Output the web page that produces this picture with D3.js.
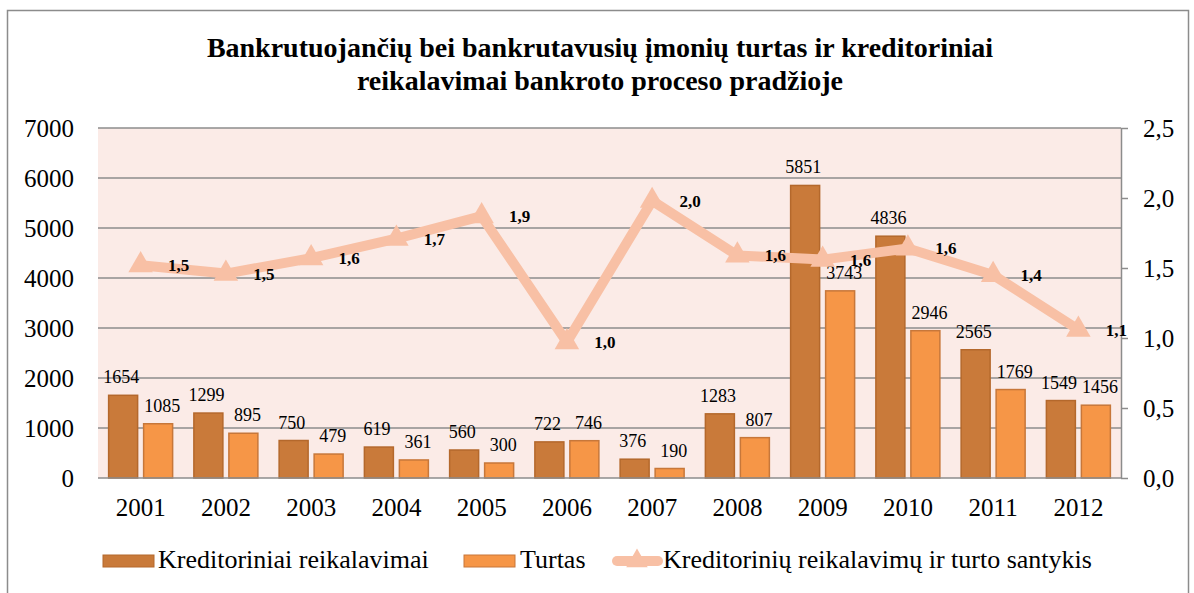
<!DOCTYPE html>
<html>
<head>
<meta charset="utf-8">
<title>Bankrutuojančių įmonių turtas</title>
<script src="https://cdn.jsdelivr.net/npm/d3@7/dist/d3.min.js"></script>
<style>
  body { margin: 0; background: #fff; }
</style>
</head>
<body>
<svg id="chart" width="1194" height="593"></svg>
<script>
var years = ['2001','2002','2003','2004','2005','2006','2007','2008','2009','2010','2011','2012'];
var kreditoriniai = [1654, 1299, 750, 619, 560, 722, 376, 1283, 5851, 4836, 2565, 1549];
var turtas = [1085, 895, 479, 361, 300, 746, 190, 807, 3743, 2946, 1769, 1456];
var santykis = [1.52, 1.46, 1.57, 1.71, 1.87, 0.97, 1.98, 1.59, 1.56, 1.64, 1.45, 1.06];
var leftTicks = [0, 1000, 2000, 3000, 4000, 5000, 6000, 7000];
var rightTicks = [0, 0.5, 1.0, 1.5, 2.0, 2.5];

var FONT = '"Liberation Serif", Tinos, "Times New Roman", "DejaVu Serif", serif';
var svg = d3.select('#chart');
var m = { left: 98, right: 1121, top: 128, bottom: 478 };

// outer frame
svg.append('rect').attr('x', 7.5).attr('y', 10.5).attr('width', 1181).attr('height', 600)
  .attr('fill', '#fff').attr('stroke', '#8c8c8c').attr('stroke-width', 1.5);

// title
svg.append('text').attr('x', 600).attr('y', 57).attr('text-anchor', 'middle')
  .attr('font-size', 28).attr('font-weight', 'bold')
  .text('Bankrutuojančių bei bankrutavusių įmonių turtas ir kreditoriniai');
svg.append('text').attr('x', 600).attr('y', 90).attr('text-anchor', 'middle')
  .attr('font-size', 28).attr('font-weight', 'bold')
  .text('reikalavimai bankroto proceso pradžioje');

var x = d3.scaleBand().domain(years).range([m.left, m.right]);
var y = d3.scaleLinear().domain([0, 7000]).range([m.bottom, m.top]);
var y2 = d3.scaleLinear().domain([0, 2.5]).range([m.bottom, m.top]);

// plot background
svg.append('rect').attr('x', m.left).attr('y', m.top)
  .attr('width', m.right - m.left).attr('height', m.bottom - m.top)
  .attr('fill', '#fbebe7');

// gridlines
svg.append('g').selectAll('line').data(leftTicks.slice(1)).enter().append('line')
  .attr('x1', m.left).attr('x2', m.right)
  .attr('y1', function (d) { return y(d); }).attr('y2', function (d) { return y(d); })
  .attr('stroke', '#8c8c8c').attr('stroke-width', 1.5);

// left axis labels
var leftAxis = d3.axisLeft(y).tickValues(leftTicks).tickSize(0).tickPadding(24)
  .tickFormat(d3.format('d'));
var gl = svg.append('g').attr('transform', 'translate(' + m.left + ',0)').call(leftAxis);
gl.select('.domain').remove();
gl.selectAll('text').attr('font-size', 25);

// right axis
var rightAxis = d3.axisRight(y2).tickValues(rightTicks).tickSize(7).tickPadding(15)
  .tickFormat(function (d) { return d3.format('.1f')(d).replace('.', ','); });
var gr = svg.append('g').attr('transform', 'translate(' + m.right + ',0)').call(rightAxis);
gr.select('.domain').attr('stroke', '#8c8c8c').attr('stroke-width', 1.5).attr('d', 'M0.5,' + m.top + 'V' + m.bottom);
gr.selectAll('line').attr('stroke', '#8c8c8c').attr('stroke-width', 1.5);
gr.selectAll('text').attr('font-size', 25);

// bars
var barW = 29, gap = 6;
var groups = svg.append('g').selectAll('g').data(years).enter().append('g');
groups.append('rect')
  .attr('x', function (d) { return x(d) + x.bandwidth() / 2 - gap / 2 - barW; })
  .attr('y', function (d, i) { return y(kreditoriniai[i]); })
  .attr('width', barW)
  .attr('height', function (d, i) { return y(0) - y(kreditoriniai[i]); })
  .attr('fill', '#c97a3a').attr('stroke', '#b4682c').attr('stroke-width', 1.5);
groups.append('rect')
  .attr('x', function (d) { return x(d) + x.bandwidth() / 2 + gap / 2; })
  .attr('y', function (d, i) { return y(turtas[i]); })
  .attr('width', barW)
  .attr('height', function (d, i) { return y(0) - y(turtas[i]); })
  .attr('fill', '#f69647').attr('stroke', '#c7773a').attr('stroke-width', 1.5);

// baseline
svg.append('line').attr('x1', m.left).attr('x2', m.right)
  .attr('y1', m.bottom).attr('y2', m.bottom)
  .attr('stroke', '#8c8c8c').attr('stroke-width', 1.5);

// bar labels
groups.append('text')
  .attr('x', function (d) { return x(d) + x.bandwidth() / 2 - gap / 2 - barW / 2 - 2; })
  .attr('y', function (d, i) { return y(kreditoriniai[i]) - 12; })
  .attr('text-anchor', 'middle').attr('font-size', 18)
  .text(function (d, i) { return kreditoriniai[i]; });
groups.append('text')
  .attr('x', function (d) { return x(d) + x.bandwidth() / 2 + gap / 2 + barW / 2 + 4; })
  .attr('y', function (d, i) { return y(turtas[i]) - 12; })
  .attr('text-anchor', 'middle').attr('font-size', 18)
  .text(function (d, i) { return turtas[i]; });

// x axis labels
svg.append('g').selectAll('text').data(years).enter().append('text')
  .attr('x', function (d) { return x(d) + x.bandwidth() / 2; })
  .attr('y', 516).attr('text-anchor', 'middle').attr('font-size', 25)
  .text(function (d) { return d; });

// ratio line
var lineColor = '#f8c0a5';
var line = d3.line()
  .x(function (d, i) { return x(years[i]) + x.bandwidth() / 2; })
  .y(function (d) { return y2(d); });
svg.append('path').datum(santykis).attr('d', line)
  .attr('fill', 'none').attr('stroke', lineColor).attr('stroke-width', 10)
  .attr('stroke-linejoin', 'round').attr('stroke-linecap', 'round');
var tri = d3.symbol().type(d3.symbolTriangle).size(260);
svg.append('g').selectAll('path').data(santykis).enter().append('path')
  .attr('d', tri)
  .attr('transform', function (d, i) {
    return 'translate(' + (x(years[i]) + x.bandwidth() / 2) + ',' + y2(d) + ')';
  })
  .attr('fill', lineColor);
svg.append('g').selectAll('text').data(santykis).enter().append('text')
  .attr('x', function (d, i) { return x(years[i]) + x.bandwidth() / 2 + 38; })
  .attr('y', function (d) { return y2(d) + 6; })
  .attr('text-anchor', 'middle').attr('font-size', 17).attr('font-weight', 'bold')
  .text(function (d) { return d3.format('.1f')(d).replace('.', ','); });

// legend
var leg = svg.append('g');
leg.append('rect').attr('x', 103).attr('y', 555).attr('width', 51).attr('height', 12)
  .attr('fill', '#c97a3a').attr('stroke', '#b4682c').attr('stroke-width', 1);
leg.append('text').attr('x', 158).attr('y', 568).attr('font-size', 26).text('Kreditoriniai reikalavimai');
leg.append('rect').attr('x', 464).attr('y', 555).attr('width', 51).attr('height', 12)
  .attr('fill', '#f69647').attr('stroke', '#c7773a').attr('stroke-width', 1);
leg.append('text').attr('x', 520).attr('y', 568).attr('font-size', 26).text('Turtas');
leg.append('line').attr('x1', 617).attr('x2', 658).attr('y1', 561).attr('y2', 561)
  .attr('stroke', lineColor).attr('stroke-width', 10).attr('stroke-linecap', 'round');
leg.append('path').attr('d', d3.symbol().type(d3.symbolTriangle).size(200))
  .attr('transform', 'translate(637,561)').attr('fill', lineColor);
leg.append('text').attr('x', 663).attr('y', 568).attr('font-size', 26).text('Kreditorinių reikalavimų ir turto santykis');

// serif font on every text, set inline so it wins over the axis defaults
svg.selectAll('text').style('font-family', FONT).style('fill', '#000');
</script>
</body>
</html>
